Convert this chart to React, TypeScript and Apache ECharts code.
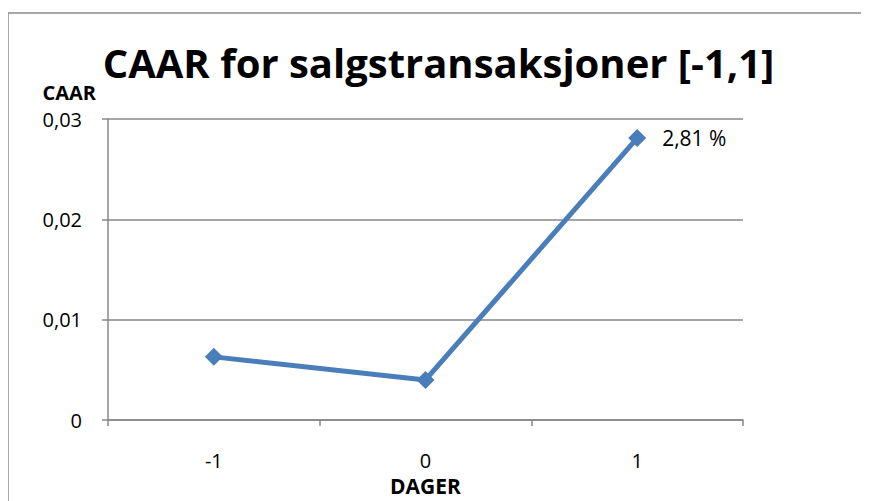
import React, { useEffect, useRef } from "react";
import * as echarts from "echarts";

const categories = ["-1", "0", "1"];
const caarValues = [0.0063, 0.004, 0.0281];
const yTicks = [0, 0.01, 0.02, 0.03];
const titleText = "CAAR for salgstransaksjoner [-1,1]";

export default function App() {
  const ref = useRef<HTMLDivElement>(null);
  useEffect(() => {
    const chart = echarts.init(ref.current!, null, { renderer: "svg" });
    chart.setOption({
      animation: false,
      backgroundColor: "#ffffff",
      graphic: [
        {
          type: "rect",
          shape: { x: 0, y: 5, width: 858, height: 520 },
          style: { fill: "none", stroke: "#8c8c8c", lineWidth: 1.5 },
        },
      ],
      title: {
        text: titleText,
        left: "center",
        top: 29,
        textStyle: { fontFamily: "Open Sans", fontWeight: "bold", fontSize: 40, color: "#000" },
      },
      grid: { left: 100, right: 126, top: 111, bottom: 72 },
      xAxis: {
        type: "category",
        data: categories,
        boundaryGap: true,
        name: "DAGER",
        nameLocation: "middle",
        nameGap: 54,
        nameTextStyle: { fontFamily: "Open Sans", fontWeight: "bold", fontSize: 21, color: "#000" },
        axisLine: { lineStyle: { color: "#878787", width: 1.5 } },
        axisTick: { show: true, length: 6, lineStyle: { color: "#878787", width: 1.5 } },
        axisLabel: { fontFamily: "Open Sans", fontSize: 20, color: "#000", margin: 30 },
      },
      yAxis: {
        type: "value",
        min: 0,
        max: 0.03,
        interval: 0.01,
        name: "CAAR",
        nameLocation: "end",
        nameGap: 18,
        nameTextStyle: {
          fontFamily: "Open Sans",
          fontWeight: "bold",
          fontSize: 20,
          lineHeight: 18,
          color: "#000",
          align: "right",
          padding: [0, 12, 0, 0],
        },
        axisLine: { show: true, lineStyle: { color: "#878787", width: 1.5 } },
        axisTick: { show: true, length: 6, lineStyle: { color: "#878787", width: 1.5 } },
        splitLine: { lineStyle: { color: "#878787", width: 1.5 } },
        axisLabel: {
          fontFamily: "Open Sans",
          fontSize: 20,
          lineHeight: 18,
          color: "#000",
          margin: 26,
          formatter: (v: number) => {
            const t = yTicks.find((x) => Math.abs(x - v) < 1e-9);
            if (t === 0) return "0";
            return (t ?? v).toFixed(2).replace(".", ",");
          },
        },
      },
      series: [
        {
          type: "line",
          data: caarValues,
          symbol: "diamond",
          symbolSize: 18,
          lineStyle: { color: "#4a7ebb", width: 5 },
          itemStyle: { color: "#4a7ebb" },
          label: {
            show: true,
            position: "right",
            distance: 16,
            fontFamily: "Open Sans",
            fontSize: 21,
            color: "#000",
            formatter: (p: any) =>
              p.dataIndex === caarValues.length - 1
                ? (p.value * 100).toFixed(2).replace(".", ",") + " %"
                : "",
          },
        },
      ],
    });
    return () => chart.dispose();
  }, []);
  return <div ref={ref} style={{ width: 861, height: 493 }} />;
}
